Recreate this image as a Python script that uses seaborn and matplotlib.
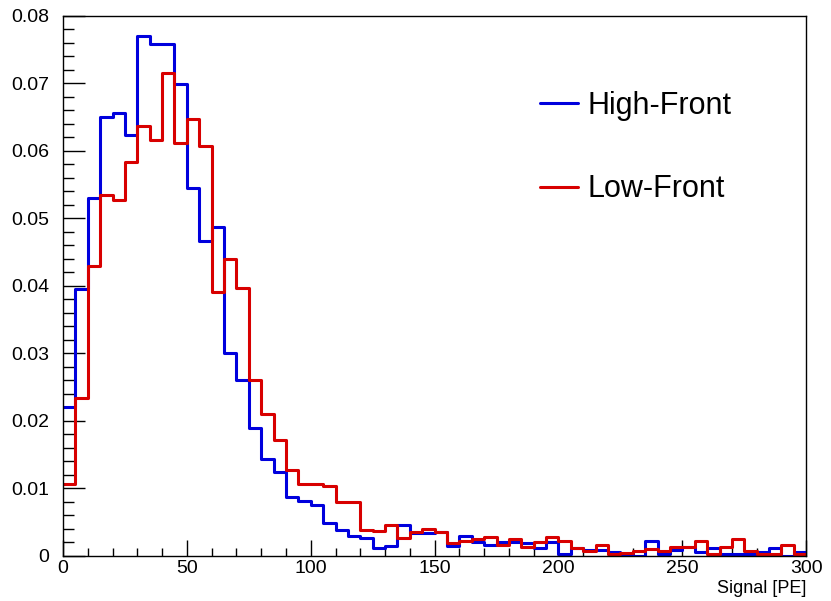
import numpy as np
import pandas as pd
import matplotlib
matplotlib.use("Agg")
import matplotlib.pyplot as plt
import seaborn as sns
from matplotlib.ticker import MultipleLocator, FuncFormatter

# bins of width 5 from 0 to 300
bin_lo = np.arange(0, 300, 5)

high_front = [0.0220, 0.0395, 0.0530, 0.0650, 0.0657, 0.0624, 0.0771, 0.0758, 0.0758, 0.0699,
              0.0545, 0.0467, 0.0487, 0.0300, 0.0261, 0.0189, 0.0144, 0.0124, 0.0088, 0.0081,
              0.0076, 0.0049, 0.0039, 0.0029, 0.0026, 0.0012, 0.0015, 0.0046, 0.0034, 0.0034,
              0.0035, 0.0015, 0.0029, 0.0020, 0.0016, 0.0020, 0.0020, 0.0019, 0.0012, 0.0020,
              0.0003, 0.0012, 0.0009, 0.0009, 0.0006, 0.0003, 0.0000, 0.0022, 0.0003, 0.0009,
              0.0013, 0.0006, 0.0012, 0.0003, 0.0003, 0.0003, 0.0006, 0.0012, 0.0000, 0.0006]

low_front = [0.0107, 0.0234, 0.0429, 0.0535, 0.0527, 0.0583, 0.0637, 0.0617, 0.0715, 0.0612,
             0.0647, 0.0607, 0.0391, 0.0440, 0.0397, 0.0260, 0.0211, 0.0172, 0.0128, 0.0106,
             0.0106, 0.0104, 0.0080, 0.0080, 0.0039, 0.0037, 0.0046, 0.0026, 0.0035, 0.0040,
             0.0035, 0.0019, 0.0022, 0.0025, 0.0028, 0.0016, 0.0025, 0.0014, 0.0020, 0.0028,
             0.0022, 0.0012, 0.0007, 0.0016, 0.0003, 0.0005, 0.0008, 0.0011, 0.0008, 0.0013,
             0.0013, 0.0022, 0.0003, 0.0014, 0.0025, 0.0008, 0.0003, 0.0003, 0.0017, 0.0003]

sns.set_style("ticks")
plt.rcParams["font.family"] = ["Liberation Sans", "DejaVu Sans"]
plt.rcParams["text.color"] = "black"
plt.rcParams["xtick.color"] = "black"
plt.rcParams["ytick.color"] = "black"
plt.rcParams["axes.labelcolor"] = "black"

fig = plt.figure(figsize=(8.31, 6.01), dpi=100)
ax = fig.add_axes([0.0758, 0.0749, 0.8944, 0.8985])

colors = {"High-Front": "#0000dd", "Low-Front": "#d80000"}
for name, vals in [("High-Front", high_front), ("Low-Front", low_front)]:
    sns.histplot(x=bin_lo + 2.5, weights=np.array(vals), binwidth=5, binrange=(0, 300),
                 element="step", fill=False, color=colors[name],
                 linewidth=2.2, label=name, ax=ax)

ax.set_xlim(0, 300)
ax.set_ylim(0, 0.08)
ax.xaxis.set_major_locator(MultipleLocator(50))
ax.xaxis.set_minor_locator(MultipleLocator(10))
ax.yaxis.set_major_locator(MultipleLocator(0.01))
ax.yaxis.set_minor_locator(MultipleLocator(0.002))
ax.yaxis.set_major_formatter(FuncFormatter(lambda v, p: "0" if abs(v) < 1e-9 else f"{v:.2f}"))
ax.xaxis.set_major_formatter(FuncFormatter(lambda v, p: f"{v:.0f}"))

ax.tick_params(axis="x", which="major", direction="in", length=11.5, width=1, labelsize=14, pad=3,
               colors="black")
ax.tick_params(axis="x", which="minor", direction="in", length=5.8, width=1, colors="black")
ax.tick_params(axis="y", which="major", direction="in", length=15.8, width=1, labelsize=14, pad=10,
               colors="black")
ax.tick_params(axis="y", which="minor", direction="in", length=7.9, width=1, colors="black")
for s in ax.spines.values():
    s.set_color("black")
    s.set_linewidth(1)

ax.set_ylabel("")
ax.set_xlabel("Signal [PE]", fontsize=13, loc="right", labelpad=2, color="black")

ax.legend(loc="upper left", bbox_to_anchor=(0.605, 0.912), frameon=False,
          fontsize=22, handlelength=1.25, handletextpad=0.3, labelspacing=1.75)

fig.savefig("out.png", dpi=100)
